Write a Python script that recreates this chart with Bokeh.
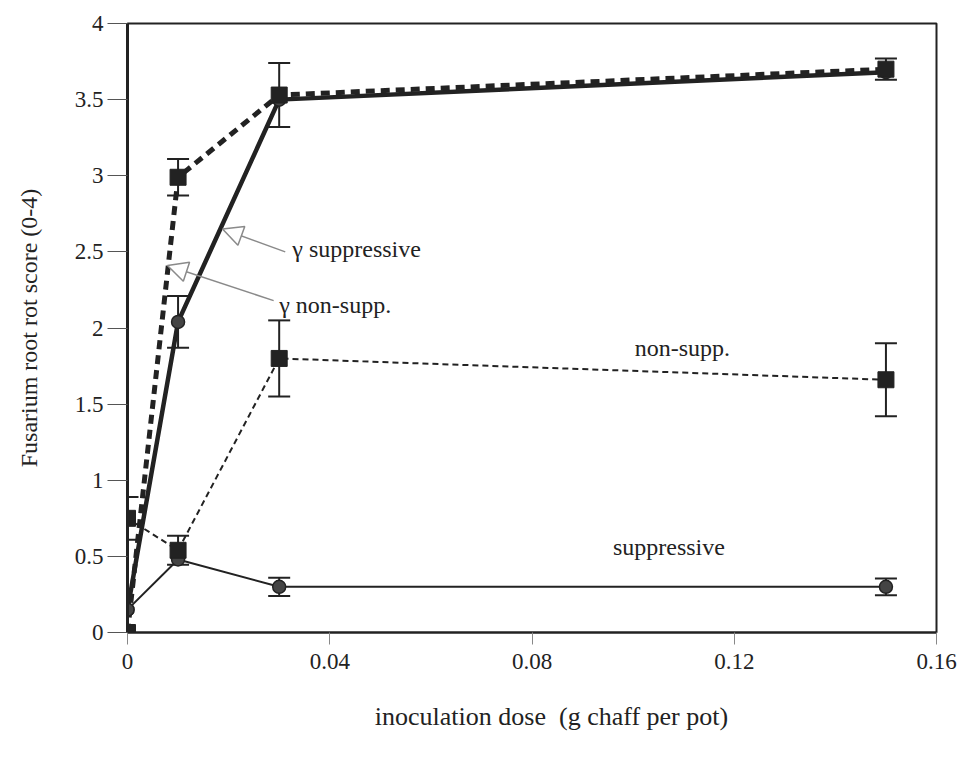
from bokeh.plotting import figure
from bokeh.models import Range1d, FixedTicker, Whisker, ColumnDataSource, Arrow, NormalHead, TeeHead
from bokeh.core.properties import value
from bokeh.embed import file_html
from bokeh.resources import INLINE

# ---- data ----
dose = [0.0, 0.01, 0.03, 0.15]
g_supp = [0.15, 2.04, 3.50, 3.68]          # gamma suppressive (thick solid, circles)
g_supp_err = [0.0, 0.17, 0.0, 0.0]
g_non = [0.0, 2.99, 3.53, 3.70]            # gamma non-supp. (thick dashed, squares)
g_non_err = [0.0, 0.12, 0.21, 0.07]
non = [0.75, 0.54, 1.80, 1.66]             # non-supp. (thin dashed, squares)
non_err = [0.14, 0.095, 0.25, 0.24]
supp = [0.15, 0.48, 0.30, 0.30]            # suppressive (thin solid, circles)
supp_err = [0.0, 0.0, 0.06, 0.055]

x_ticks = [0, 0.04, 0.08, 0.12, 0.16]
x_tick_labels = ["0", "0.04", "0.08", "0.12", "0.16"]
y_ticks = [0, 0.5, 1, 1.5, 2, 2.5, 3, 3.5, 4]
y_tick_labels = ["0", "0.5", "1", "1.5", "2", "2.5", "3", "3.5", "4"]

x_title = "\u00a0\u00a0\u00a0\u00a0\u00a0\u00a0inoculation dose\u00a0 (g chaff per pot)"
y_title = "Fusarium root rot score (0-4)"

# annotation labels: (text, x, y)
labels = [
    ("\u03b3 suppressive", 0.0326, 2.52),
    ("\u03b3 non-supp.", 0.0300, 2.15),
    ("non-supp.", 0.1003, 1.87),
    ("suppressive", 0.0960, 0.56),
]
# arrows: (x_start, y_start, x_tip, y_tip)
arrows = [
    (0.0312, 2.50, 0.0188, 2.65),
    (0.0289, 2.18, 0.0079, 2.41),
]

FONT = "Liberation Serif"
INK = "#222222"

p = figure(width=968, height=764, x_range=Range1d(0, 0.16), y_range=Range1d(0, 4),
           output_backend="svg", toolbar_location=None,
           min_border_left=127, min_border_right=32, min_border_top=23, min_border_bottom=132)
p.background_fill_color = "white"
p.border_fill_color = "white"
p.outline_line_color = INK
p.outline_line_width = 2
p.xgrid.visible = False
p.ygrid.visible = False

for ax in (p.xaxis[0], p.yaxis[0]):
    ax.major_label_text_font = FONT
    ax.major_label_text_font_size = "23px"
    ax.major_label_text_color = INK
    ax.axis_label_text_font = FONT
    ax.axis_label_text_font_style = "normal"
    ax.axis_label_text_color = INK
    ax.minor_tick_line_color = None
    ax.major_tick_in = 0
    ax.axis_line_color = INK

p.xaxis.ticker = FixedTicker(ticks=x_ticks)
p.xaxis.major_label_overrides = {t: l for t, l in zip(x_ticks, x_tick_labels)}
p.yaxis.ticker = FixedTicker(ticks=y_ticks)
p.yaxis.major_label_overrides = {t: l for t, l in zip(y_ticks, y_tick_labels)}
p.xaxis.axis_label = x_title
p.yaxis.axis_label = y_title
p.xaxis.axis_label_text_font_size = "26px"
p.yaxis.axis_label_text_font_size = "24px"
p.xaxis.major_tick_out = 12
p.xaxis.major_tick_line_color = "#888888"
p.xaxis.major_label_standoff = 9
p.xaxis.axis_label_standoff = 30
p.xaxis.axis_line_width = 2
p.yaxis.major_tick_out = 20
p.yaxis.major_tick_line_color = "#555555"
p.yaxis.major_label_standoff = 4
p.yaxis.axis_label_standoff = 30
p.yaxis.axis_line_width = 3

def errbars(y, err):
    xs, lo, hi = [], [], []
    for xi, yi, ei in zip(dose, y, err):
        if ei > 0:
            xs.append(xi); lo.append(yi - ei); hi.append(yi + ei)
    src = ColumnDataSource(dict(x=xs, lower=lo, upper=hi))
    w = Whisker(source=src, base="x", lower="lower", upper="upper",
                line_color=INK, line_width=2,
                upper_head=TeeHead(size=22, line_color=INK, line_width=2),
                lower_head=TeeHead(size=22, line_color=INK, line_width=2))
    p.add_layout(w)

# thin series
p.line(dose, supp, line_color=INK, line_width=2)
p.line(dose, non, line_color=INK, line_width=2, line_dash="6 4")
# thick series
p.line(dose, g_supp, line_color=INK, line_width=4.5)
p.line(dose, g_non, line_color=INK, line_width=5, line_dash="9 6")

errbars(supp, supp_err)
errbars(non, non_err)
errbars(g_supp, g_supp_err)
errbars(g_non, g_non_err)

p.scatter(dose, supp, marker="circle", size=13, fill_color="#444444", line_color=INK, line_width=1.5)
p.scatter(dose, g_supp, marker="circle", size=13, fill_color="#444444", line_color=INK, line_width=1.5)
p.scatter(dose, non, marker="square", size=16, fill_color=INK, line_color=INK)
p.scatter(dose, g_non, marker="square", size=16, fill_color=INK, line_color=INK)

for x0, y0, x1, y1 in arrows:
    p.add_layout(Arrow(x_start=x0, y_start=y0, x_end=x1, y_end=y1,
                       line_color="#8a8a8a", line_width=1.5,
                       end=NormalHead(size=20, fill_color="white", line_color="#8a8a8a", line_width=1.5)))

p.text(x=[l[1] for l in labels], y=[l[2] for l in labels], text=[l[0] for l in labels],
       text_font=value(FONT), text_font_size="24px", text_color=INK,
       text_baseline="middle", text_align="left")

open("out.html", "w").write(file_html(p, INLINE))
